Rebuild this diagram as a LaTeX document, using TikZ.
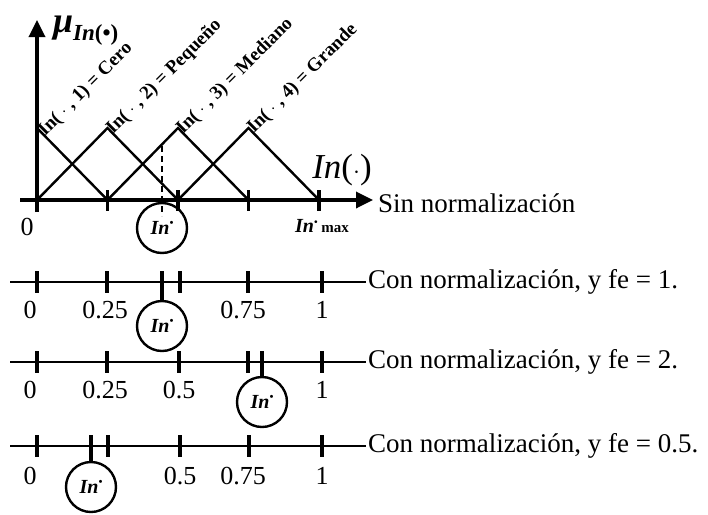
\documentclass[tikz,border=0pt]{standalone}
\usepackage{fontspec}
\setmainfont{Liberation Serif}
\usetikzlibrary{arrows.meta}
\begin{document}
\begin{tikzpicture}[x=1pt,y=-1pt,
  axisline/.style={line width=3.4pt},
  normline/.style={line width=2.8pt},
  mfline/.style={line width=2.4pt},
  tickmark/.style={line width=3.2pt},
  instar/.style={circle,draw,line width=2.4pt,minimum size=50pt,inner sep=0pt,
    font=\fontsize{20}{20}\selectfont\bfseries\itshape},
  numlbl/.style={inner sep=0pt,font=\fontsize{26}{26}\selectfont},
  sidelbl/.style={anchor=west,inner sep=0pt,font=\fontsize{27}{27}\selectfont},
  setlbl/.style={rotate=45,anchor=base west,inner sep=0pt,
    font=\fontsize{19}{19}\selectfont\bfseries},
  bigtip/.style={-{Triangle[length=17pt,width=16pt]}}]
\useasboundingbox (0,0) rectangle (708,514);
\newcommand{\instartext}{\raisebox{-5pt}{In\raisebox{8pt}{\fontsize{11}{11}\selectfont\textbullet}}}

% ---------- membership functions (no normalisation) ----------
\coordinate (O) at (37,200);
\coordinate (Obelow) at (37,212);
\coordinate (ytop) at (37,20);
\coordinate (xstart) at (20,200);
\coordinate (xend) at (373,200);
\draw[axisline,bigtip] (Obelow) -- (ytop);
\draw[axisline,bigtip] (xstart) -- (xend);
\foreach \x in {107.5,178,248.5,319}
  \draw[tickmark] (\x,190) -- (\x,211);

\coordinate (p1) at (37,128);
\coordinate (p2) at (107.5,128);
\coordinate (p3) at (178,128);
\coordinate (p4) at (248.5,128);
\coordinate (b1) at (107.5,200);
\coordinate (b2) at (178,200);
\coordinate (b3) at (248.5,200);
\coordinate (b4) at (319,200);
\draw[mfline] (p1) -- (b1);
\draw[mfline] (O) -- (p2) -- (b2);
\draw[mfline] (b1) -- (p3) -- (b3);
\draw[mfline] (b2) -- (p4) -- (b4);

\node[setlbl] (s1) at (45,137) {In( $\cdot$ , 1) = Cero};
\node[setlbl] (s2) at (113,135) {In( $\cdot$ , 2) = Pequeño};
\node[setlbl] (s3) at (183,135) {In( $\cdot$ , 3) = Mediano};
\node[setlbl] (s4) at (254,134) {In( $\cdot$ , 4) = Grande};

\node[anchor=base west,inner sep=0pt] (mu) at (53,32)
  {\fontsize{36}{36}\selectfont\bfseries\itshape μ\raisebox{-8pt}{\fontsize{23}{23}\selectfont In\upshape(\textbullet)}};
\node[inner sep=0pt] (inx) at (342,170)
  {\fontsize{35}{35}\selectfont\itshape In\upshape($\cdot$)};
\node[sidelbl] (sin) at (378,203) {Sin normalización};
\node[numlbl] (z0) at (27,227) {0};
\node[anchor=west,inner sep=0pt] (inmax) at (295,226)
  {\fontsize{20}{20}\selectfont\bfseries\itshape In\raisebox{7pt}{\fontsize{10}{10}\selectfont\textbullet}\upshape\fontsize{15}{15}\selectfont\ max};

\node[instar] (c1) at (162,228) {\instartext};
\coordinate (d1) at (162,146);
\coordinate (d2) at (162,216);
\draw[line width=1.8pt,dash pattern=on 6pt off 4pt] (d1) -- (d2);

% ---------- normalised scale, fe = 1 ----------
\coordinate (a2s) at (10,282);
\coordinate (a2e) at (366,282);
\draw[normline] (a2s) -- (a2e);
\foreach \x in {37,107,180,248,322}
  \draw[tickmark] (\x,271) -- (\x,293);
\node[instar] (c2) at (162,326) {\instartext};
\coordinate (t2) at (162,271);
\draw[tickmark] (t2) -- (c2.north);
\node[numlbl] at (30,310) {0};
\node[numlbl] at (105,310) {0.25};
\node[numlbl] at (243,310) {0.75};
\node[numlbl] at (322,310) {1};
\node[sidelbl] (con1) at (368,282) {Con normalización, y fe = 1.};

% ---------- normalised scale, fe = 2 ----------
\coordinate (a3s) at (10,362);
\coordinate (a3e) at (366,362);
\draw[normline] (a3s) -- (a3e);
\foreach \x in {37,107,179,248,322}
  \draw[tickmark] (\x,351) -- (\x,373);
\node[instar] (c3) at (262,402) {\instartext};
\coordinate (t3) at (262,351);
\draw[tickmark] (t3) -- (c3.north);
\node[numlbl] at (30,390) {0};
\node[numlbl] at (105,390) {0.25};
\node[numlbl] at (179,390) {0.5};
\node[numlbl] at (322,390) {1};
\node[sidelbl] (con2) at (368,362) {Con normalización, y fe = 2.};

% ---------- normalised scale, fe = 0.5 ----------
\coordinate (a4s) at (10,446);
\coordinate (a4e) at (366,446);
\draw[normline] (a4s) -- (a4e);
\foreach \x in {37,108,180,249,322}
  \draw[tickmark] (\x,435) -- (\x,457);
\node[instar] (c4) at (91,487) {\instartext};
\coordinate (t4) at (91,435);
\draw[tickmark] (t4) -- (c4.north);
\node[numlbl] at (30,476) {0};
\node[numlbl] at (180,476) {0.5};
\node[numlbl] at (243,476) {0.75};
\node[numlbl] at (322,476) {1};
\node[sidelbl] (con3) at (368,446) {Con normalización, y fe = 0.5.};
\end{tikzpicture}
\end{document}
